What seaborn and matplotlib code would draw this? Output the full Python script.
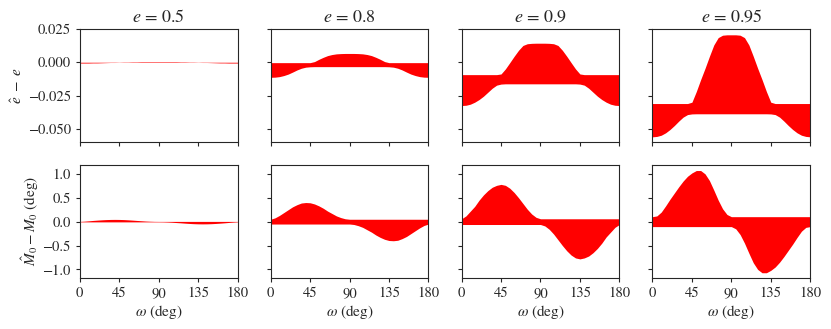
import numpy as np
import matplotlib
matplotlib.use('Agg')
import matplotlib.pyplot as plt
import seaborn as sns

ECC = [0.5, 0.8, 0.9, 0.95]
OMEGA = list(range(0, 185, 5))  # deg

# top row: e_hat - e, upper / lower envelope
E_UPPER = {
    0.5: [0.0] * 10 + [0.0001, 0.0001, 0.0002, 0.0002, 0.0003, 0.0003, 0.0003, 0.0003, 0.0003,
                       0.0003, 0.0003, 0.0003, 0.0003, 0.0002, 0.0002, 0.0001, 0.0001] + [0.0] * 10,
    0.8: [-0.0003] * 10 + [0.0005, 0.0022, 0.0037, 0.0050, 0.0058, 0.0063, 0.0065, 0.0066, 0.0066,
                           0.0066, 0.0065, 0.0063, 0.0058, 0.0050, 0.0037, 0.0022, 0.0005] + [-0.0003] * 10,
    0.9: [-0.0093] * 9 + [-0.0088, -0.0050, -0.0003, 0.0045, 0.0090, 0.0126, 0.0139, 0.0142, 0.0143, 0.0143,
                          0.0143, 0.0142, 0.0139, 0.0126, 0.0090, 0.0045, -0.0003, -0.0050, -0.0088] + [-0.0093] * 9,
    0.95: [-0.0310] * 9 + [-0.0300, -0.0220, -0.0130, -0.0045, 0.0045, 0.0130, 0.0185, 0.0203, 0.0206, 0.0206,
                           0.0206, 0.0203, 0.0185, 0.0130, 0.0045, -0.0045, -0.0130, -0.0220, -0.0300] + [-0.0310] * 9,
}
E_LOWER = {
    0.5: [-0.0006, -0.0006, -0.0006, -0.0005, -0.0005, -0.0004, -0.0003, -0.0002, -0.0002, -0.0001]
         + [-0.0001] * 17
         + [-0.0001, -0.0002, -0.0002, -0.0003, -0.0004, -0.0005, -0.0005, -0.0006, -0.0006, -0.0006],
    0.8: [-0.0113, -0.0112, -0.0108, -0.0100, -0.0089, -0.0074, -0.0058, -0.0045, -0.0037, -0.0034]
         + [-0.0033] * 17
         + [-0.0034, -0.0037, -0.0045, -0.0058, -0.0074, -0.0089, -0.0100, -0.0108, -0.0112, -0.0113],
    0.9: [-0.0325, -0.0323, -0.0315, -0.0300, -0.0280, -0.0255, -0.0225, -0.0195, -0.0172, -0.0164]
         + [-0.0162] * 17
         + [-0.0164, -0.0172, -0.0195, -0.0225, -0.0255, -0.0280, -0.0300, -0.0315, -0.0323, -0.0325],
    0.95: [-0.0560, -0.0557, -0.0548, -0.0530, -0.0505, -0.0475, -0.0442, -0.0412, -0.0393, -0.0388]
          + [-0.0387] * 17
          + [-0.0388, -0.0393, -0.0412, -0.0442, -0.0475, -0.0505, -0.0530, -0.0548, -0.0557, -0.0560],
}

# bottom row: M0_hat - M0 (deg), upper / lower envelope
M_UPPER = {
    0.5: [0.005, 0.010, 0.017, 0.025, 0.032, 0.038, 0.043, 0.046, 0.047, 0.046,
          0.043, 0.038, 0.032, 0.025, 0.019, 0.013, 0.009, 0.006, 0.005] + [0.005] * 18,
    0.8: [0.05, 0.08, 0.13, 0.19, 0.25, 0.31, 0.355, 0.39, 0.40, 0.395,
          0.37, 0.33, 0.28, 0.22, 0.17, 0.12, 0.085, 0.06, 0.05] + [0.05] * 18,
    0.9: [0.06, 0.12, 0.22, 0.32, 0.45, 0.56, 0.65, 0.72, 0.76, 0.78,
          0.76, 0.70, 0.61, 0.50, 0.38, 0.26, 0.16, 0.09, 0.06] + [0.06] * 18,
    0.95: [0.104, 0.12, 0.20, 0.33, 0.47, 0.60, 0.73, 0.85, 0.95, 1.02,
           1.07, 1.07, 1.00, 0.86, 0.66, 0.45, 0.27, 0.15, 0.104] + [0.104] * 18,
}
M_LOWER = {
    0.5: [-0.005] * 19 + [-0.006, -0.009, -0.013, -0.019, -0.025, -0.032, -0.038, -0.043, -0.046,
                          -0.047, -0.046, -0.043, -0.038, -0.032, -0.025, -0.017, -0.010, -0.005],
    0.8: [-0.05] * 19 + [-0.06, -0.085, -0.12, -0.17, -0.22, -0.28, -0.33, -0.37, -0.395,
                         -0.40, -0.39, -0.355, -0.31, -0.25, -0.19, -0.13, -0.08, -0.05],
    0.9: [-0.06] * 19 + [-0.09, -0.16, -0.26, -0.38, -0.50, -0.61, -0.70, -0.76, -0.78,
                         -0.76, -0.72, -0.65, -0.56, -0.45, -0.32, -0.22, -0.12, -0.06],
    0.95: [-0.104] * 19 + [-0.15, -0.27, -0.45, -0.66, -0.86, -1.00, -1.07, -1.07, -1.02,
                           -0.95, -0.85, -0.73, -0.60, -0.47, -0.33, -0.20, -0.12, -0.104],
}

sns.set_style('ticks')
plt.rcParams['font.family'] = ['STIXGeneral', 'DejaVu Sans']
plt.rcParams['mathtext.fontset'] = 'stix'
plt.rcParams['axes.edgecolor'] = '0.15'
plt.rcParams['axes.linewidth'] = 0.8
plt.rcParams['xtick.major.size'] = 3
plt.rcParams['ytick.major.size'] = 3
plt.rcParams['xtick.color'] = '0.15'
plt.rcParams['ytick.color'] = '0.15'

fig, axes = plt.subplots(2, 4, figsize=(8.31, 3.29), dpi=100, sharex=True, sharey='row')

for j, e in enumerate(ECC):
    ax = axes[0, j]
    ax.fill_between(OMEGA, E_LOWER[e], E_UPPER[e], color='red', linewidth=0)
    ax.set_title(f'$e$ = {e}', fontsize=13, pad=5)

    ax = axes[1, j]
    ax.fill_between(OMEGA, M_LOWER[e], M_UPPER[e], color='red', linewidth=0)
    ax.set_xlabel(r'$\omega$ (deg)', fontsize=11, labelpad=1.5)

for ax in axes.flat:
    ax.tick_params(labelsize=10.5)
    ax.set_xlim(0, 180)
    ax.set_xticks([0, 45, 90, 135, 180])

axes[0, 0].set_ylim(-0.06, 0.025)
axes[0, 0].set_yticks([-0.05, -0.025, 0.0, 0.025])
axes[1, 0].set_ylim(-1.18, 1.19)
axes[1, 0].set_yticks([-1.0, -0.5, 0.0, 0.5, 1.0])
axes[0, 0].set_ylabel(r'$\hat{e}\ -\ e$', fontsize=11, labelpad=2)
axes[1, 0].set_ylabel(r'$\hat{M}_0 - M_0$ (deg)', fontsize=11, labelpad=1)

fig.subplots_adjust(left=0.096, right=0.975, top=0.912, bottom=0.155, wspace=0.21, hspace=0.2)
plt.savefig('out.png', dpi=100)
plt.close()
